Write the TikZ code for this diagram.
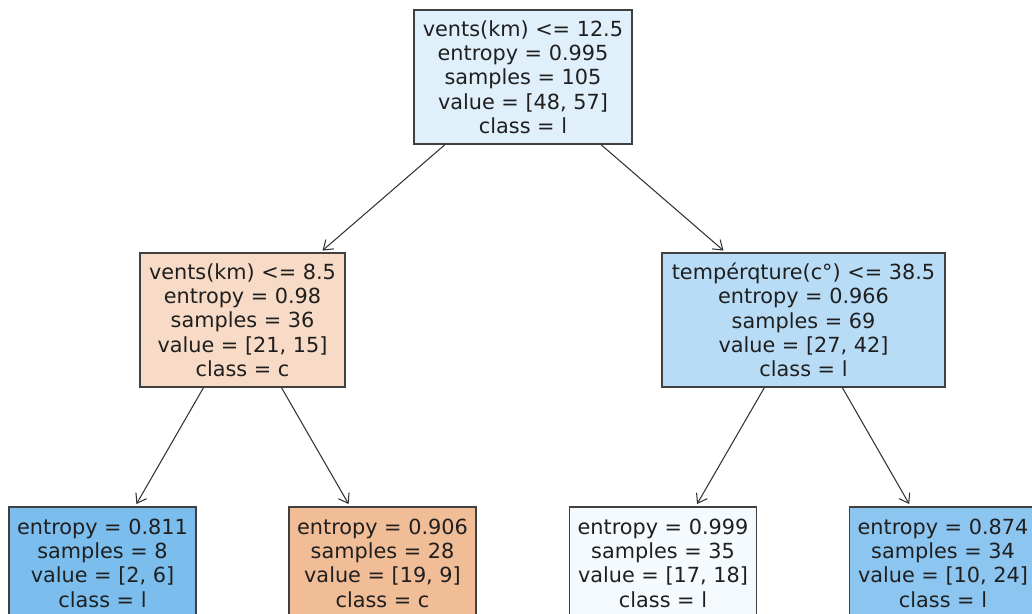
\documentclass[tikz,border=0pt]{standalone}
\usepackage{fontspec}
\setmainfont{DejaVu Sans}
\usetikzlibrary{arrows.meta}

\definecolor{rootfill}{RGB}{224,240,251}
\definecolor{cfill}{RGB}{248,219,198}
\definecolor{lfill}{RGB}{184,220,246}
\definecolor{llfill}{RGB}{123,190,238}
\definecolor{lrfill}{RGB}{241,189,151}
\definecolor{rlfill}{RGB}{244,250,254}
\definecolor{rrfill}{RGB}{140,198,240}
\definecolor{edgegray}{RGB}{64,64,64}

\begin{document}
\begin{tikzpicture}[x=0.02cm,y=-0.02cm,font=\fontsize{11.84}{13.83}\selectfont,
  >={Straight Barb[length=5pt,width=7pt]},
  box/.style={draw=edgegray,line width=0.8pt,inner sep=0pt,align=center,text=black!88},
  split/.style={box,minimum height=2.68cm},
  leaf/.style={box,minimum height=2.24cm,minimum width=3.74cm},
  edge/.style={->,line width=0.6pt,draw=black!80,shorten >=1.5pt}]
\useasboundingbox (0,0) rectangle (1032,613);
\clip (0,0) rectangle (1032,613);

% root split
\node[split,fill=rootfill,minimum width=4.36cm] (root) at (523,77)
  {vents(km) <= 12.5\\entropy = 0.995\\samples = 105\\value = [48, 57]\\class = l};

% second level
\node[split,fill=cfill,minimum width=4.1cm] (left) at (242.5,320)
  {vents(km) <= 8.5\\entropy = 0.98\\samples = 36\\value = [21, 15]\\class = c};
\node[split,fill=lfill,minimum width=5.66cm] (right) at (803.5,320)
  {tempérqture(c°) <= 38.5\\entropy = 0.966\\samples = 69\\value = [27, 42]\\class = l};

% leaves
\node[leaf,fill=llfill] (ll) at (102.5,563)
  {entropy = 0.811\\samples = 8\\value = [2, 6]\\class = l};
\node[leaf,fill=lrfill] (lr) at (382.5,563)
  {entropy = 0.906\\samples = 28\\value = [19, 9]\\class = c};
\node[leaf,fill=rlfill] (rl) at (663,563)
  {entropy = 0.999\\samples = 35\\value = [17, 18]\\class = l};
\node[leaf,fill=rrfill] (rr) at (943,563)
  {entropy = 0.874\\samples = 34\\value = [10, 24]\\class = l};

% edges
\draw[edge] (root) -- (left);
\draw[edge] (root) -- (right);
\draw[edge] (left) -- (ll);
\draw[edge] (left) -- (lr);
\draw[edge] (right) -- (rl);
\draw[edge] (right) -- (rr);
\end{tikzpicture}
\end{document}
